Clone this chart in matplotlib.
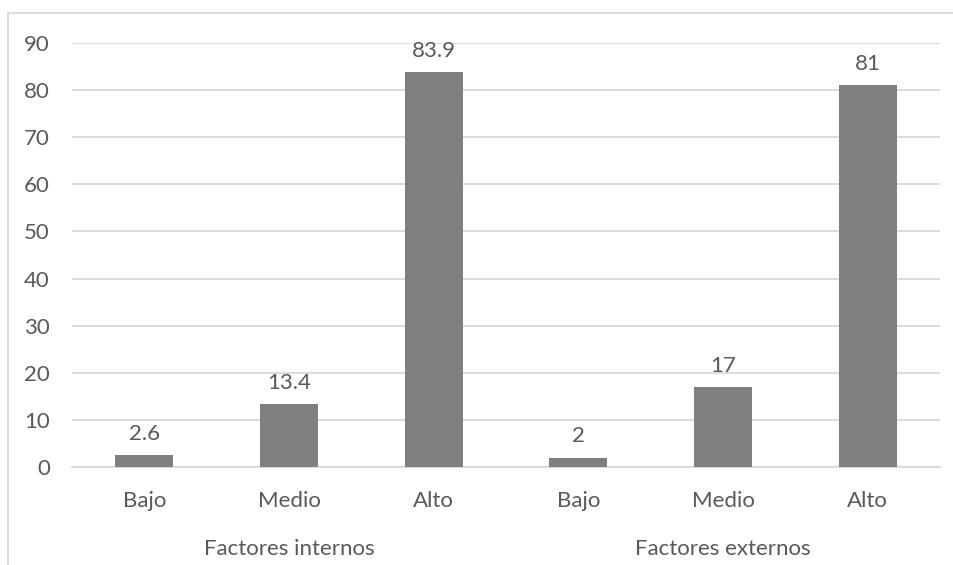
import matplotlib.pyplot as plt
from matplotlib.patches import Rectangle

# datos
grupos = ["Factores internos", "Factores externos"]
niveles = ["Bajo", "Medio", "Alto"]
internos = [2.6, 13.4, 83.9]
externos = [2, 17, 81]
etiquetas = ["2.6", "13.4", "83.9", "2", "17", "81"]
yticks = list(range(0, 100, 10))

gris = "#7f7f7f"
texto = "#595959"
rejilla = "#d9d9d9"

plt.rcParams['font.family'] = ['Lato', 'DejaVu Sans']

fig = plt.figure(figsize=(9.54, 5.65), dpi=100)
ax = fig.add_axes([72/954, 1-467/565, (940-72)/954, (467-43)/565])

valores = internos + externos
x = list(range(len(valores)))
ax.bar(x, valores, width=0.4, color=gris, zorder=3)

for xi, v, lab in zip(x, valores, etiquetas):
    ax.annotate(lab, (xi, v), xytext=(0, 8), textcoords="offset points",
                ha="center", va="bottom", fontsize=16, color=texto)

ax.set_xlim(-0.5, len(valores) - 0.5)
ax.set_ylim(0, 90)
ax.set_yticks(yticks)
ax.yaxis.grid(True, color=rejilla, linewidth=1.3, zorder=0)
ax.tick_params(axis="y", length=0, pad=16, labelsize=16, labelcolor=texto)
ax.set_xticks(x)
ax.set_xticklabels(niveles * 2)
ax.tick_params(axis="x", length=0, pad=17, labelsize=16, labelcolor=texto)

for s in ["left", "right", "top"]:
    ax.spines[s].set_visible(False)
ax.spines["bottom"].set_color(rejilla)
ax.spines["bottom"].set_linewidth(1.3)

# etiquetas de grupo
for i, g in enumerate(grupos):
    ax.text(i*3 + 1, -17.4, g, ha="center", va="center", fontsize=16,
            color=texto, transform=ax.transData, clip_on=False)

# borde del área del gráfico
fig.patches.append(Rectangle((8/954, -0.1), 1.2, 1 - 13/565 + 0.1,
                             transform=fig.transFigure, fill=False,
                             edgecolor=rejilla, linewidth=1.3))

fig.savefig("out.png", dpi=100)
